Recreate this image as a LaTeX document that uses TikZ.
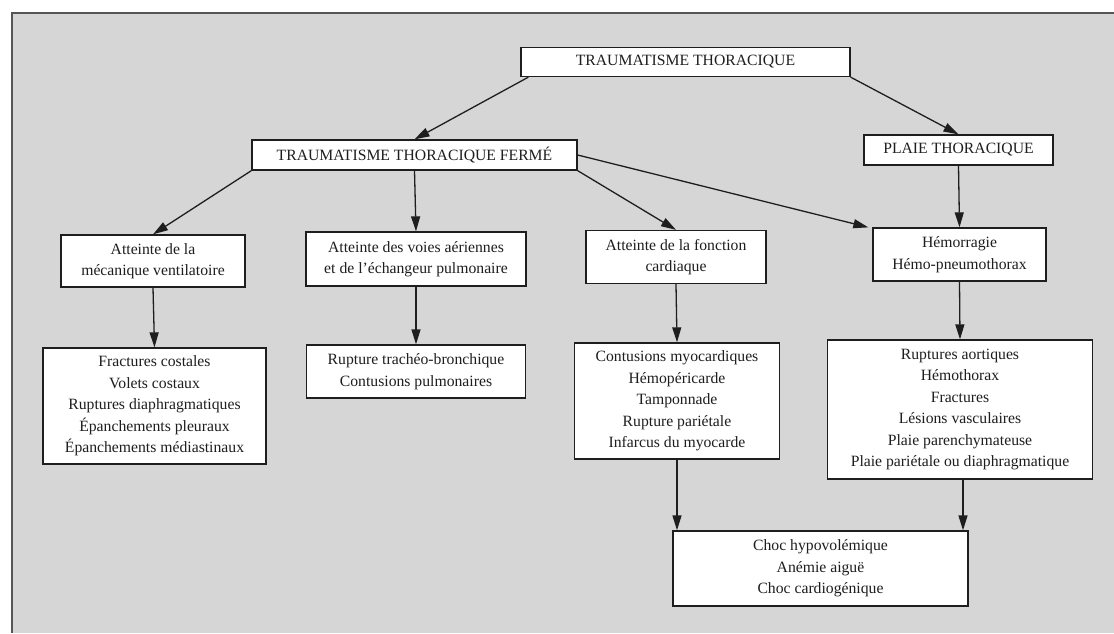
\documentclass[tikz,border=0pt]{standalone}
\usepackage{fontspec}
\setmainfont{Liberation Serif}
\usetikzlibrary{arrows.meta}
\definecolor{bggrey}{RGB}{214,214,214}
\definecolor{ink}{RGB}{30,30,30}
\begin{document}
\begin{tikzpicture}[x=1pt,y=-1pt,
  box/.style={draw=ink,line width=1.3pt,fill=white,text=ink,align=center,inner sep=0pt,
    font=\fontsize{15.7}{21.5}\selectfont},
  arr/.style={draw=ink,line width=1.3pt,-{Triangle[length=15pt,width=9pt]}}]
\useasboundingbox (0,0) rectangle (1114,633);
\fill[white] (0,0) rectangle (1114,633);
\fill[bggrey] (12,13) rectangle (1114,633);
\draw[ink!75,line width=1.3pt] (12,633) -- (12,13) -- (1114,13);

\node[box,minimum width=329pt,minimum height=29pt] (top) at (685.5,62) {TRAUMATISME THORACIQUE};
\node[box,minimum width=325pt,minimum height=30pt] (fer) at (414.5,155) {TRAUMATISME THORACIQUE FERMÉ};
\node[box,minimum width=189pt,minimum height=30pt] (pla) at (958.5,150) {PLAIE THORACIQUE};

\node[box,minimum width=184pt,minimum height=52pt] (mec) at (153,261) {Atteinte de la\\mécanique ventilatoire};
\node[box,minimum width=220pt,minimum height=54pt] (voi) at (416,259) {Atteinte des voies aériennes\\et de l’échangeur pulmonaire};
\node[box,minimum width=180pt,minimum height=53pt] (fon) at (676,257) {Atteinte de la fonction\\cardiaque};
\node[box,minimum width=173pt,minimum height=53pt] (hem) at (959.5,254.5) {Hémorragie\\Hémo-pneumothorax};

\node[box,minimum width=223pt,minimum height=116pt] (fra) at (154.5,406) {Fractures costales\\Volets costaux\\Ruptures diaphragmatiques\\Épanchements pleuraux\\Épanchements médiastinaux};
\node[box,minimum width=219pt,minimum height=53pt] (rup) at (416,371.5) {Rupture trachéo-bronchique\\Contusions pulmonaires};
\node[box,minimum width=205pt,minimum height=116pt] (con) at (677,401) {Contusions myocardiques\\Hémopéricarde\\Tamponnade\\Rupture pariétale\\Infarcus du myocarde};
\node[box,minimum width=265pt,minimum height=139pt] (aor) at (960,409.5) {Ruptures aortiques\\Hémothorax\\Fractures\\Lésions vasculaires\\Plaie parenchymateuse\\Plaie pariétale ou diaphragmatique};
\node[box,minimum width=295pt,minimum height=75pt] (cho) at (820.5,568.5) {Choc hypovolémique\\Anémie aiguë\\Choc cardiogénique};

\draw[arr] ([xshift=8pt]top.south west) -- (fer.north);
\draw[arr] (top.south east) -- (pla.north);
\draw[arr] (fer.south west) -- (mec.north);
\draw[arr] (fer.south) -- (voi.north);
\draw[arr] (fer.south east) -- (fon.north);
\draw[arr] (fer.east) -- ([xshift=-4pt]hem.north west);
\draw[arr] (pla.south) -- (hem.north);
\draw[arr] (mec.south) -- (fra.north);
\draw[arr] (voi.south) -- (rup.north);
\draw[arr] (fon.south) -- (con.north);
\draw[arr] (hem.south) -- (aor.north);
\draw[arr] (con.south) -- (con.south |- cho.north);
\draw[arr] ([xshift=3pt]aor.south) -- ([xshift=3pt]aor.south |- cho.north);
\end{tikzpicture}
\end{document}
